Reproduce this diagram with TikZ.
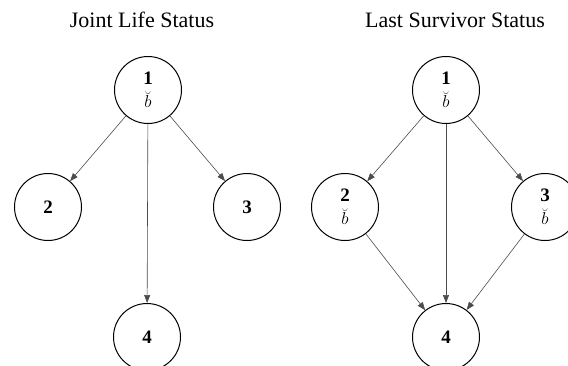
\documentclass[tikz,border=0pt]{standalone}
\usepackage{fontspec}
\setmainfont{Liberation Serif}
\usetikzlibrary{arrows.meta}

\begin{document}
\begin{tikzpicture}[x=1pt,y=-1pt,
    state/.style={draw,circle,line width=1pt,minimum size=67pt,inner sep=0pt,
      align=center,font=\fontsize{19}{22}\selectfont},
    link/.style={draw=black!70,line width=.6pt,-{Triangle[length=8pt,width=6pt]}},
    heading/.style={font=\fontsize{22}{24}\selectfont}]
  \useasboundingbox (0,0) rectangle (568,365);

  % joint life status
  \node (jt) [heading] at (142,20) {Joint Life Status};
  \node (j1) [state] at (148,90) {\textbf{1}\\[1pt]$\breve{b}$};
  \node (j2) [state] at (48,207) {\textbf{2}};
  \node (j3) [state] at (247,207) {\textbf{3}};
  \node (j4) [state] at (147,337) {\textbf{4}};
  \draw[link] (j1) -- (j2);
  \draw[link] (j1) -- (j3);
  \draw[link] (j1) -- (j4);

  % last survivor status
  \node (lt) [heading] at (455,20) {Last Survivor Status};
  \node (l1) [state] at (446,90) {\textbf{1}\\[1pt]$\breve{b}$};
  \node (l2) [state] at (345,207) {\textbf{2}\\[1pt]$\breve{b}$};
  \node (l3) [state] at (545,207) {\textbf{3}\\[1pt]$\breve{b}$};
  \node (l4) [state] at (446,337) {\textbf{4}};
  \draw[link] (l1) -- (l2);
  \draw[link] (l1) -- (l3);
  \draw[link] (l1) -- (l4);
  \draw[link] (l2) -- (l4);
  \draw[link] (l3) -- (l4);
\end{tikzpicture}
\end{document}
